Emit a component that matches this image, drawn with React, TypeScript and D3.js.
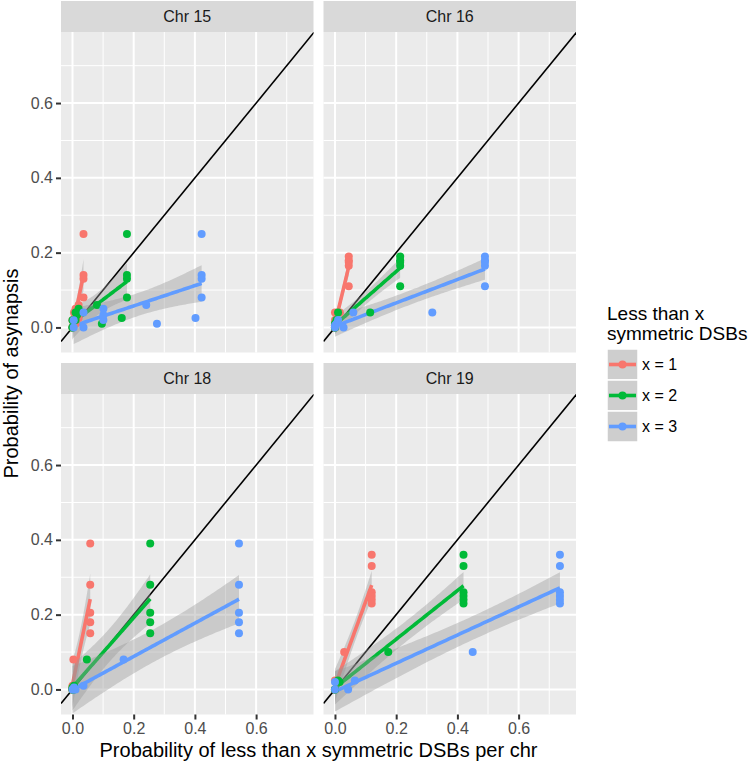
import React, { useEffect, useRef } from 'react';
import * as d3 from 'd3';

const chromosomes = ['Chr 15', 'Chr 16', 'Chr 18', 'Chr 19'];
const groupLabels = ['x = 1', 'x = 2', 'x = 3'];
const groupColors = ['#F8766D', '#00BA38', '#619CFF'];
const majorTicks = [0, 0.2, 0.4, 0.6];
const minorTicks = [0.1, 0.3, 0.5, 0.7];

// probability of asynapsis per sample (y) and probability of < x symmetric DSBs (x)
const chr15Asyn = [0.25, 0.14, 0.13, 0.08, 0.025, 0.01, 0.06, 0.05, 0.02, 0.033, 0.04, 0.0, 0.019, 0.0];
const chr15P1 = [0.036, 0.036, 0.036, 0.036, 0.02, 0.01, 0.02, 0.01, 0.005, 0.008, 0.005, 0.0, 0.0, 0.0];
const chr15P2 = [0.178, 0.178, 0.178, 0.178, 0.161, 0.096, 0.08, 0.02, 0.01, 0.015, 0.01, 0.0, 0.0, 0.0];
const chr15P3 = [0.422, 0.422, 0.422, 0.422, 0.402, 0.276, 0.241, 0.101, 0.101, 0.101, 0.036, 0.036, 0.004, 0.004];

const chr16Asyn = [0.19, 0.18, 0.175, 0.165, 0.11, 0.04, 0.04, 0.02, 0.01, 0.005, 0.0, 0.0];
const chr16P1 = [0.045, 0.045, 0.045, 0.045, 0.045, 0.016, 0.0, 0.0, 0.0, 0.0, 0.0, 0.0];
const chr16P2 = [0.213, 0.213, 0.213, 0.213, 0.213, 0.115, 0.01, 0.005, 0.0, 0.0, 0.0, 0.0];
const chr16P3 = [0.49, 0.49, 0.49, 0.49, 0.49, 0.318, 0.06, 0.01, 0.005, 0.0, 0.028, 0.0];

const chr18Asyn = [0.39, 0.28, 0.205, 0.18, 0.15, 0.08, 0.01, 0.005, 0.0, 0.0, 0.0];
const chr18P1 = [0.058, 0.058, 0.058, 0.058, 0.058, 0.003, 0.0, 0.0, 0.0, 0.0, 0.0];
const chr18P2 = [0.254, 0.254, 0.254, 0.254, 0.254, 0.047, 0.005, 0.0, 0.0, 0.005, 0.0];
const chr18P3 = [0.544, 0.544, 0.544, 0.544, 0.544, 0.167, 0.036, 0.005, 0.0, 0.01, 0.003];

const chr19Asyn = [0.36, 0.33, 0.26, 0.25, 0.24, 0.23, 0.1, 0.024, 0.02, 0.0, 0.0];
const chr19P1 = [0.12, 0.12, 0.12, 0.12, 0.12, 0.12, 0.03, 0.0, 0.01, 0.0, 0.0];
const chr19P2 = [0.42, 0.42, 0.42, 0.42, 0.42, 0.42, 0.174, 0.01, 0.015, 0.0, 0.0];
const chr19P3 = [0.735, 0.735, 0.735, 0.735, 0.735, 0.735, 0.45, 0.065, 0.0, 0.043, 0.0];

const panelData = [
  { asyn: chr15Asyn, probs: [chr15P1, chr15P2, chr15P3] },
  { asyn: chr16Asyn, probs: [chr16P1, chr16P2, chr16P3] },
  { asyn: chr18Asyn, probs: [chr18P1, chr18P2, chr18P3] },
  { asyn: chr19Asyn, probs: [chr19P1, chr19P2, chr19P3] },
];

// 97.5% t quantile (Cornish-Fisher approximation)
const tq = (df: number) => {
  const z = 1.959964;
  return z + (z ** 3 + z) / (4 * df) + (5 * z ** 5 + 16 * z ** 3 + 3 * z) / (96 * df * df)
    + (3 * z ** 7 + 19 * z ** 5 + 17 * z ** 3 - 15 * z) / (384 * df ** 3);
};

// lm fit with 95% confidence band, like geom_smooth(method = "lm")
const lmBand = (xs: number[], ys: number[]) => {
  const n = xs.length;
  const mx = d3.mean(xs)!;
  const my = d3.mean(ys)!;
  let sxx = 0, sxy = 0;
  xs.forEach((xv, i) => { sxx += (xv - mx) ** 2; sxy += (xv - mx) * (ys[i] - my); });
  const b = sxy / sxx;
  const a = my - b * mx;
  let rss = 0;
  xs.forEach((xv, i) => { rss += (ys[i] - a - b * xv) ** 2; });
  const s2 = rss / (n - 2);
  const t = tq(n - 2);
  const [lo, hi] = d3.extent(xs) as [number, number];
  return d3.range(80).map((k) => {
    const xv = lo + (hi - lo) * k / 79;
    const fit = a + b * xv;
    const se = Math.sqrt(s2 * (1 / n + (xv - mx) ** 2 / sxx));
    return { x: xv, fit, lo: fit - t * se, hi: fit + t * se };
  });
};

const App = () => {
  const chart = useRef<SVGSVGElement>(null);

  useEffect(() => {
    const svg = d3.select(chart.current);
    svg.selectAll('*').remove();

    const font = '"Liberation Sans", Arial, Helvetica, sans-serif';
    const colLeft = [61, 323.5];
    const rowTop = [1, 363];
    const stripH = 31;
    const panelW = 252.5;
    const panelH = 320.5;
    const fmt = d3.format('.1f');

    const defs = svg.append('defs');

    chromosomes.forEach((name, i) => {
      const col = i % 2;
      const row = Math.floor(i / 2);
      const left = colLeft[col];
      const top = rowTop[row] + stripH;
      const x = d3.scaleLinear().domain([-0.0375, 0.7875]).range([left, left + panelW]);
      const y = d3.scaleLinear().domain([-0.067, 0.79]).range([top + panelH, top]);

      // strip
      svg.append('rect')
        .attr('x', left).attr('y', rowTop[row])
        .attr('width', panelW).attr('height', stripH)
        .attr('fill', '#D9D9D9');
      svg.append('text')
        .attr('x', left + panelW / 2).attr('y', rowTop[row] + stripH / 2)
        .attr('dy', '0.35em').attr('text-anchor', 'middle')
        .style('font-family', font).style('font-size', '16px')
        .attr('fill', '#1A1A1A')
        .text(name);

      // panel + grid
      svg.append('rect')
        .attr('x', left).attr('y', top)
        .attr('width', panelW).attr('height', panelH)
        .attr('fill', '#EBEBEB');

      const grid = svg.append('g');
      minorTicks.forEach((v) => {
        grid.append('line').attr('x1', x(v)).attr('x2', x(v)).attr('y1', top).attr('y2', top + panelH)
          .attr('stroke', '#fff').attr('stroke-width', 1);
        grid.append('line').attr('x1', left).attr('x2', left + panelW).attr('y1', y(v)).attr('y2', y(v))
          .attr('stroke', '#fff').attr('stroke-width', 1);
      });
      majorTicks.forEach((v) => {
        grid.append('line').attr('x1', x(v)).attr('x2', x(v)).attr('y1', top).attr('y2', top + panelH)
          .attr('stroke', '#fff').attr('stroke-width', 2);
        grid.append('line').attr('x1', left).attr('x2', left + panelW).attr('y1', y(v)).attr('y2', y(v))
          .attr('stroke', '#fff').attr('stroke-width', 2);
      });

      defs.append('clipPath').attr('id', `clip${i}`)
        .append('rect').attr('x', left).attr('y', top).attr('width', panelW).attr('height', panelH);

      const g = svg.append('g').attr('clip-path', `url(#clip${i})`);

      // y = x reference line
      g.append('line')
        .attr('x1', x(-0.0375)).attr('y1', y(-0.0375))
        .attr('x2', x(0.79)).attr('y2', y(0.79))
        .attr('stroke', '#000').attr('stroke-width', 1.6);

      const { asyn, probs } = panelData[i];

      // smooths
      probs.forEach((p, k) => {
        const band = lmBand(p, asyn);
        g.append('path')
          .datum(band)
          .attr('d', d3.area<any>().x((d) => x(d.x)).y0((d) => y(d.lo)).y1((d) => y(d.hi)))
          .attr('fill', '#999999').attr('fill-opacity', 0.4);
        g.append('path')
          .datum(band)
          .attr('d', d3.line<any>().x((d) => x(d.x)).y((d) => y(d.fit)))
          .attr('fill', 'none').attr('stroke', groupColors[k]).attr('stroke-width', 3.6);
      });

      // points
      probs.forEach((p, k) => {
        g.selectAll(`circle.g${k}`)
          .data(p.map((xv, j) => [xv, asyn[j]]))
          .enter().append('circle')
          .attr('class', `g${k}`)
          .attr('cx', (d) => x(d[0])).attr('cy', (d) => y(d[1]))
          .attr('r', 4).attr('fill', groupColors[k]);
      });

      // axes
      if (col === 0) {
        const ax = svg.append('g')
          .attr('transform', `translate(${left},0)`)
          .call(d3.axisLeft(y).tickValues(majorTicks).tickSize(5).tickPadding(3).tickFormat((d) => fmt(d as number)));
        ax.select('.domain').remove();
        ax.selectAll('line').attr('stroke', '#333333').attr('stroke-width', 2);
        ax.selectAll('text').attr('fill', '#4D4D4D').style('font-family', font).style('font-size', '16px');
      }
      if (row === 1) {
        const ax = svg.append('g')
          .attr('transform', `translate(0,${top + panelH})`)
          .call(d3.axisBottom(x).tickValues(majorTicks).tickSize(5).tickPadding(3).tickFormat((d) => fmt(d as number)));
        ax.select('.domain').remove();
        ax.selectAll('line').attr('stroke', '#333333').attr('stroke-width', 2);
        ax.selectAll('text').attr('fill', '#4D4D4D').style('font-family', font).style('font-size', '16px');
      }
    });

    // axis titles
    svg.append('text')
      .attr('x', 318.5).attr('y', 757)
      .attr('text-anchor', 'middle')
      .style('font-family', font).style('font-size', '20px')
      .text('Probability of less than x symmetric DSBs per chr');
    svg.append('text')
      .attr('transform', 'translate(18,373.5) rotate(-90)')
      .attr('text-anchor', 'middle')
      .style('font-family', font).style('font-size', '20px')
      .text('Probability of asynapsis');

    // legend
    const lg = svg.append('g');
    lg.append('text').attr('x', 607).attr('y', 320)
      .style('font-family', font).style('font-size', '19px').text('Less than x');
    lg.append('text').attr('x', 607).attr('y', 340)
      .style('font-family', font).style('font-size', '19px').text('symmetric DSBs');
    groupLabels.forEach((label, k) => {
      const ky = 349 + k * 31;
      lg.append('rect').attr('x', 607).attr('y', ky).attr('width', 31).attr('height', 31)
        .attr('fill', '#CECECE').attr('stroke', '#fff').attr('stroke-width', 1.5);
      lg.append('line').attr('x1', 609).attr('x2', 636).attr('y1', ky + 15.5).attr('y2', ky + 15.5)
        .attr('stroke', groupColors[k]).attr('stroke-width', 3.6);
      lg.append('circle').attr('cx', 622.5).attr('cy', ky + 15.5).attr('r', 4).attr('fill', groupColors[k]);
      lg.append('text').attr('x', 642).attr('y', ky + 15.5).attr('dy', '0.35em')
        .style('font-family', font).style('font-size', '16px').text(label);
    });
  }, []);

  return (
    <svg ref={chart} width={753} height={764} style={{ position: 'absolute', left: 0, top: 0 }} />
  );
};

export default App;
